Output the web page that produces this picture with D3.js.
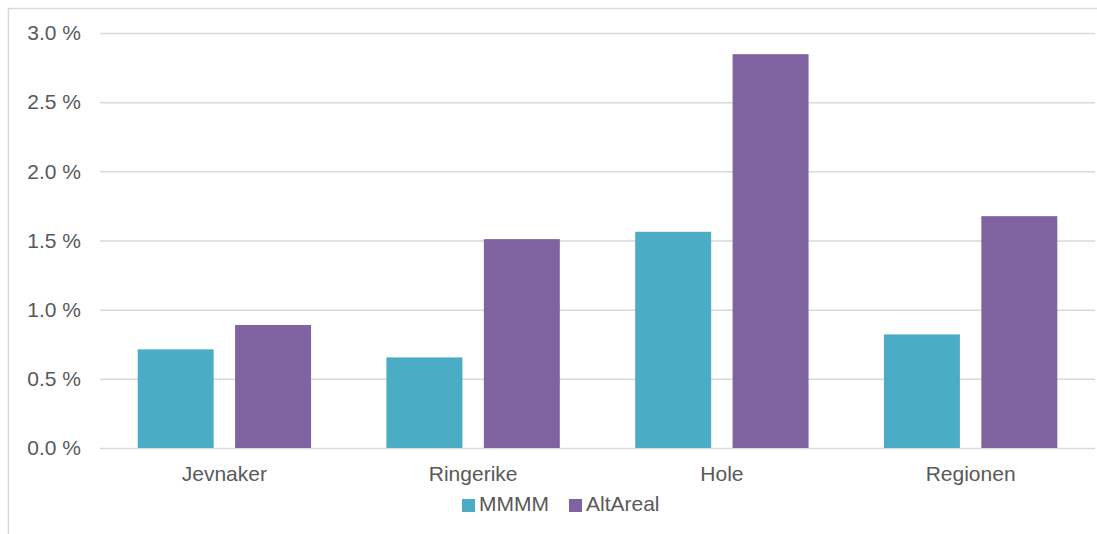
<!DOCTYPE html>
<html>
<head>
<meta charset="utf-8">
<script src="https://cdn.jsdelivr.net/npm/d3@7/dist/d3.min.js"></script>
<style>
  html, body { margin: 0; padding: 0; background: #fff; }
  svg { display: block; }
  text { font-family: "Liberation Sans", Arial, sans-serif; fill: #595959; }
</style>
</head>
<body>
<svg id="chart" width="1097" height="534"></svg>
<script>
// Share of area, per municipality
const categories = ["Jevnaker", "Ringerike", "Hole", "Regionen"];
const seriesNames = ["MMMM", "AltAreal"];
const mmmmValues = [0.713, 0.655, 1.563, 0.821];
const altArealValues = [0.889, 1.510, 2.847, 1.676];
const tickValues = [0, 0.5, 1.0, 1.5, 2.0, 2.5, 3.0];
const colors = ["#4BACC6", "#8064A2"];

const seriesValues = [mmmmValues, altArealValues];
const rows = categories.map((c, i) => ({
  category: c,
  values: seriesNames.map((s, j) => ({ series: s, value: seriesValues[j][i], color: colors[j] }))
}));

const svg = d3.select("#chart");
const W = 1097, H = 534;
const plot = { left: 100, right: 1095, top: 33, bottom: 448 };

// outer frame
svg.append("rect")
  .attr("x", 8.5).attr("y", 8.5)
  .attr("width", W + 20).attr("height", H + 20)
  .attr("fill", "none")
  .attr("stroke", "#d9d9d9")
  .attr("stroke-width", 1.5);

const y = d3.scaleLinear().domain([0, 3.0]).range([plot.bottom, plot.top]);
const x0 = d3.scaleBand().domain(categories).range([plot.left, plot.right])
  .paddingInner(0.303).paddingOuter(0.1515);
const x1 = d3.scaleBand().domain(seriesNames).range([0, x0.bandwidth()])
  .paddingInner(0.22).paddingOuter(0);

// gridlines and value axis
const yAxis = d3.axisLeft(y)
  .tickValues(tickValues)
  .tickSize(-(plot.right - plot.left))
  .tickPadding(19)
  .tickFormat(d => d3.format(".1f")(d) + " %");

const gy = svg.append("g")
  .attr("transform", `translate(${plot.left},0)`)
  .call(yAxis);
gy.select(".domain").remove();
gy.selectAll(".tick line").attr("stroke", "#d9d9d9").attr("stroke-width", 1.5);
gy.selectAll(".tick text")
  .attr("font-size", "21px")
  .attr("fill", "#595959")
  .attr("font-family", "Liberation Sans, Arial, sans-serif");

// bars
const groups = svg.append("g").selectAll("g")
  .data(rows)
  .join("g")
  .attr("transform", d => `translate(${x0(d.category)},0)`);

groups.selectAll("rect")
  .data(d => d.values)
  .join("rect")
  .attr("x", d => x1(d.series))
  .attr("y", d => y(d.value))
  .attr("width", x1.bandwidth())
  .attr("height", d => y(0) - y(d.value))
  .attr("fill", d => d.color);

// category axis
const xAxis = d3.axisBottom(x0).tickSize(0).tickPadding(18);
const gx = svg.append("g")
  .attr("transform", `translate(0,${plot.bottom})`)
  .call(xAxis);
gx.select(".domain").remove();
gx.selectAll(".tick text")
  .attr("font-size", "21px")
  .attr("fill", "#595959")
  .attr("font-family", "Liberation Sans, Arial, sans-serif");

// legend
const legend = svg.append("g").attr("transform", "translate(0,0)");
const legendY = 511;
let lx = 462;
seriesNames.forEach((s, j) => {
  legend.append("rect")
    .attr("x", lx).attr("y", legendY - 12)
    .attr("width", 13).attr("height", 13)
    .attr("fill", colors[j]);
  const t = legend.append("text")
    .attr("x", lx + 17).attr("y", legendY)
    .attr("font-size", "21px")
    .text(s);
  lx += 17 + t.node().getComputedTextLength() + 20;
});
</script>
</body>
</html>
